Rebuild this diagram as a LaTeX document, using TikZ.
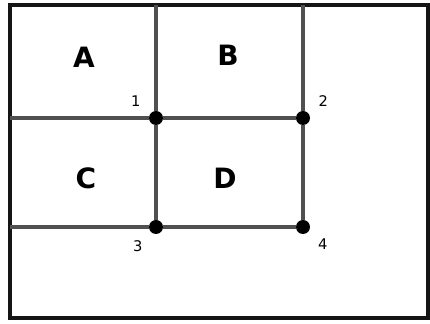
\documentclass[tikz,border=0pt]{standalone}
\usepackage{fontspec}
\setmainfont{DejaVu Sans}
\usetikzlibrary{positioning}
\definecolor{frame}{HTML}{151515}
\definecolor{grid}{HTML}{505050}

\tikzset{
  cell/.style={font=\fontsize{21}{24}\selectfont\bfseries},
  dot/.style={circle,fill=black,inner sep=0pt,minimum size=10.5pt},
  num/.style={font=\fontsize{11}{12}\selectfont,label distance=4pt},
  gridline/.style={line width=2.4pt,color=grid},
}

\begin{document}
\begin{tikzpicture}[x=0.75pt,y=-0.75pt]
  \useasboundingbox (0,0) rectangle (430,324);

  % outer frame
  \draw[line width=2.8pt,color=frame] (10,5) rectangle (428,318);

  % grid points
  \node[dot,label={[num]150:1}] (p1) at (156,118) {};
  \node[dot,label={[num]30:2}]  (p2) at (303,118) {};
  \node[dot,label={[num]225:3}] (p3) at (156,227) {};
  \node[dot,label={[num]-35:4}] (p4) at (303,227) {};

  \coordinate (t1) at (156,5);
  \coordinate (t2) at (303,5);
  \coordinate (l1) at (10,118);
  \coordinate (l2) at (10,227);

  % grid lines
  \draw[gridline] (t1) -- (p1) -- (p3);
  \draw[gridline] (t2) -- (p2) -- (p4);
  \draw[gridline] (l1) -- (p1) -- (p2);
  \draw[gridline] (l2) -- (p3) -- (p4);

  % cells
  \node[cell] (a) at (84,57) {A};
  \node[cell] (b) at (228,55) {B};
  \node[cell] (c) at (86,178) {C};
  \node[cell] (d) at (225,178) {D};
\end{tikzpicture}
\end{document}
